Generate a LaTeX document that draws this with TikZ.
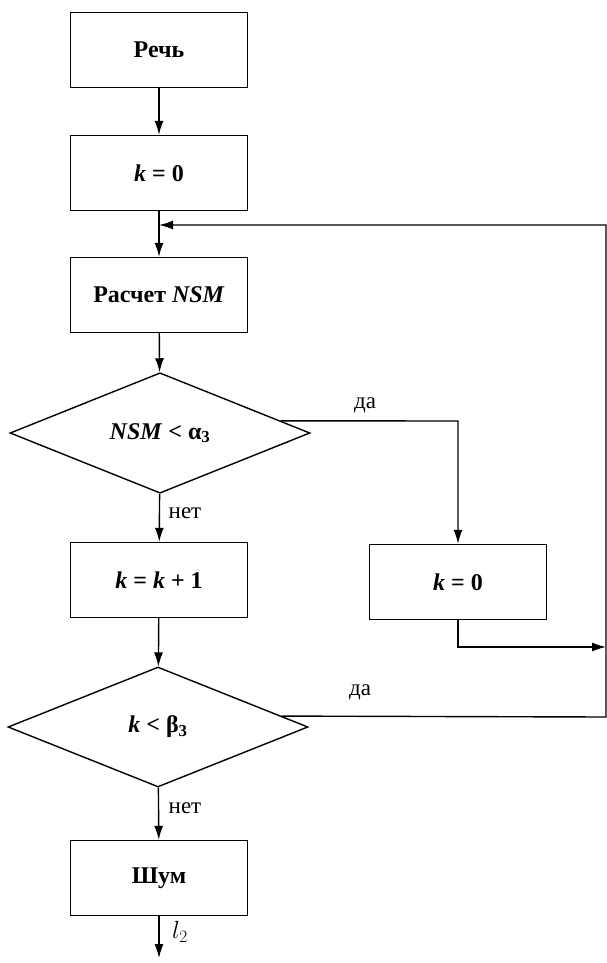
\documentclass[tikz,border=0pt]{standalone}
\usepackage{fontspec}
\setmainfont{Liberation Serif}
\usetikzlibrary{shapes.geometric,arrows.meta,calc}
\tikzset{
  proc/.style={draw, line width=1.4pt, rectangle, minimum width=177pt, minimum height=75pt, inner sep=0pt, font=\fontsize{24}{28}\selectfont\bfseries},
  dec/.style={draw, line width=1.4pt, diamond, minimum width=300pt, minimum height=120pt, inner sep=0pt, font=\fontsize{24}{28}\selectfont\bfseries},
  conn/.style={line width=1.4pt, -{Latex[length=14pt,width=9pt]}},
  lbl/.style={font=\fontsize{23}{26}\selectfont, inner sep=0pt}
}
\begin{document}
\begin{tikzpicture}[x=1pt,y=-1pt]
\useasboundingbox (0,0) rectangle (607,963);
\node[proc] (rech) at (159,50) {Речь};
\node[proc] (k0) at (159,173) {\textit{k} = 0};
\node[proc] (nsm) at (159,295) {Расчет \textit{NSM}};
\node[dec] (d1) at (160,433) {\textit{NSM} < α\textsubscript{3}};
\node[proc] (kk) at (159,580) {\textit{k} = \textit{k} + 1};
\node[proc] (kr) at (458,582) {\textit{k} = 0};
\node[dec] (d2) at (158,727) {\textit{k} < β\textsubscript{3}};
\node[proc] (noise) at (159,878) {Шум};
\coordinate (out) at (159,958);
\coordinate (da1) at ($(d1.east)!0.2!(d1.north)$);
\coordinate (da2) at ($(d2.east)!0.18!(d2.north)$);
\coordinate (c1) at (458,421);
\coordinate (c2) at (606,717);
\coordinate (c3) at (606,225);
\coordinate (c4) at (159,225);
\coordinate (c5) at (458,647);
\coordinate (c6) at (606,647);
\draw[conn] (rech) -- (k0);
\draw[conn] (k0) -- (nsm);
\draw[conn] (nsm) -- (d1);
\draw[conn] (d1) -- (kk);
\draw[conn] (kk) -- (d2);
\draw[conn] (d2) -- (noise);
\draw[conn] (noise) -- (out);
\draw[conn] (da1) -- (c1) -- (kr);
\draw[conn] (kr.south) -- (c5) -- (c6);
\draw[conn] (da2) -- (c2) -- (c3) -- (c4);
\node[lbl] (yes1) at (365,405) {да};
\node[lbl] (yes2) at (360,692) {да};
\node[lbl] (no1) at (185,513) {нет};
\node[lbl] (no2) at (185,808) {нет};
\node[lbl, font=\fontsize{24}{27}\selectfont] (l2) at (180,932) {$l_2$};
\end{tikzpicture}
\end{document}
